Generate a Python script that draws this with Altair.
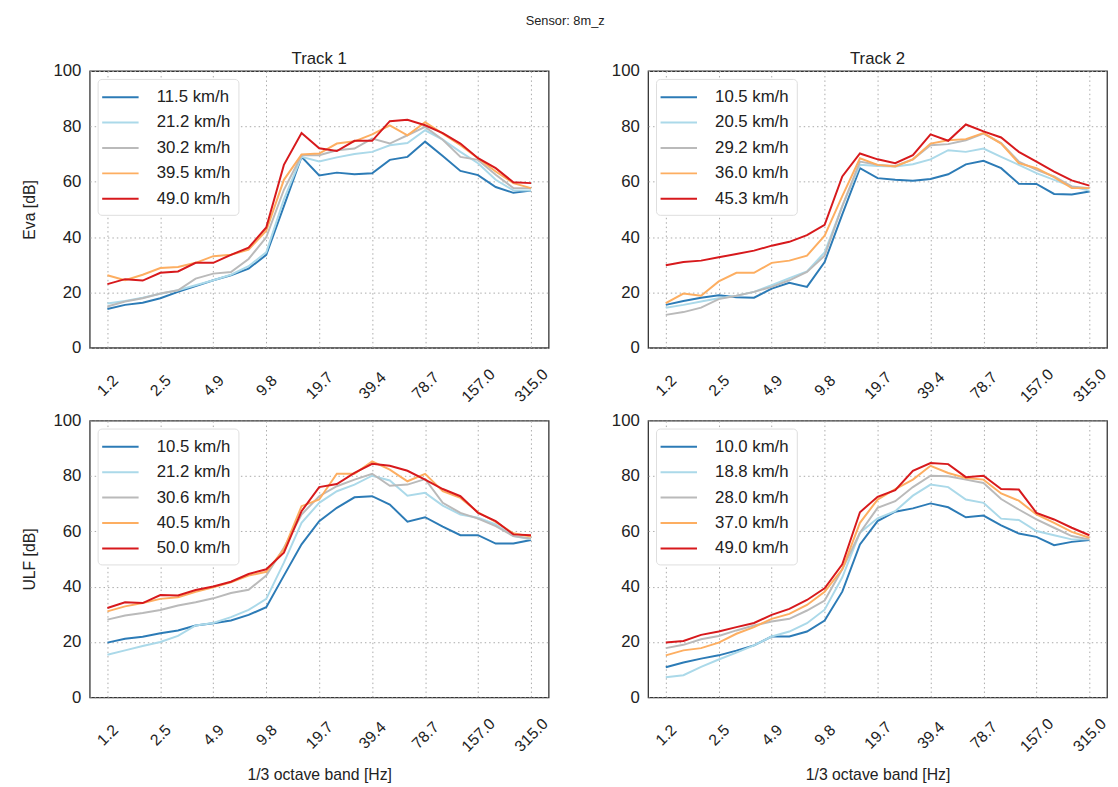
import altair as alt
import pandas as pd

FONT = "Liberation Sans"

bands = ["1.2", "1.6", "2.0", "2.5", "3.1", "3.9", "4.9", "6.2", "7.8", "9.8",
         "12.4", "15.6", "19.7", "24.8", "31.2", "39.4", "49.6", "62.5", "78.7",
         "99.2", "125.0", "157.0", "198.4", "250.0", "315.0"]
tick_labels = ["1.2", "2.5", "4.9", "9.8", "19.7", "39.4", "78.7", "157.0", "315.0"]
colors = ["#2c7bb6", "#abd9e9", "#bababa", "#fdae61", "#d7191c"]

# ---- Eva, Track 1
speeds_eva_t1 = ["11.5 km/h", "21.2 km/h", "30.2 km/h", "39.5 km/h", "49.0 km/h"]
eva_t1_a = [14.0, 15.5, 16.3, 17.9, 20.2, 22.3, 24.4, 26.2, 28.6, 33.6, 51.2, 69.0, 62.3,
            63.3, 62.7, 63.1, 67.9, 69.0, 74.5, 69.3, 63.9, 62.4, 58.1, 56.0, 56.8]
eva_t1_b = [16.0, 16.9, 18.1, 19.5, 20.8, 22.6, 24.4, 26.4, 29.5, 34.5, 53.6, 69.0, 67.3,
            68.8, 70.0, 70.8, 73.2, 74.0, 78.6, 75.2, 70.8, 66.7, 60.7, 56.9, 56.8]
eva_t1_c = [14.9, 16.7, 17.9, 19.6, 20.8, 25.0, 26.8, 27.4, 32.1, 39.9, 57.1, 69.6, 69.6,
            71.4, 72.0, 75.6, 73.8, 76.8, 79.8, 75.2, 69.0, 67.9, 62.5, 57.7, 57.7]
eva_t1_d = [26.2, 24.4, 26.4, 28.8, 29.2, 30.7, 33.1, 33.6, 35.5, 42.3, 60.7, 69.9, 70.2,
            73.8, 74.6, 77.1, 80.4, 76.8, 81.5, 77.4, 73.2, 68.5, 63.7, 59.5, 57.7]
eva_t1_e = [23.0, 24.8, 24.3, 27.1, 27.6, 30.7, 30.7, 33.6, 36.2, 43.5, 66.1, 77.6, 72.1,
            71.1, 74.8, 74.8, 81.9, 82.4, 80.4, 77.6, 73.8, 68.5, 64.9, 59.8, 59.5]

# ---- Eva, Track 2
speeds_eva_t2 = ["10.5 km/h", "20.5 km/h", "29.2 km/h", "36.0 km/h", "45.3 km/h"]
eva_t2_a = [15.5, 16.9, 18.1, 19.0, 18.3, 18.1, 21.4, 23.5, 22.0, 31.0, 48.2, 64.9, 61.3,
            60.7, 60.4, 61.0, 62.7, 66.3, 67.6, 64.9, 59.3, 59.2, 55.6, 55.4, 56.5]
eva_t2_b = [14.5, 15.5, 16.7, 17.9, 18.8, 20.2, 22.6, 25.2, 27.6, 34.5, 51.2, 66.1, 65.7,
            65.5, 66.3, 68.1, 71.4, 70.8, 72.0, 69.0, 66.1, 63.1, 60.7, 58.3, 56.8]
eva_t2_c = [11.9, 12.9, 14.5, 17.6, 18.8, 20.2, 22.0, 24.4, 27.4, 33.3, 51.2, 67.3, 66.1,
            65.7, 68.1, 73.2, 73.6, 75.0, 77.4, 74.0, 67.3, 64.3, 61.9, 58.3, 57.7]
eva_t2_d = [16.1, 19.6, 18.8, 24.0, 27.1, 27.1, 30.7, 31.5, 33.3, 40.5, 54.8, 68.5, 66.1,
            65.5, 68.1, 73.8, 75.0, 75.4, 77.6, 73.8, 66.7, 64.9, 61.7, 57.7, 57.7]
eva_t2_e = [29.8, 31.0, 31.5, 32.7, 33.9, 35.1, 36.9, 38.3, 40.7, 44.4, 61.9, 70.2, 68.1,
            66.7, 69.6, 77.1, 74.8, 80.7, 78.2, 76.0, 70.8, 67.3, 63.7, 60.5, 58.6]

# ---- ULF, Track 1
speeds_ulf_t1 = ["10.5 km/h", "21.2 km/h", "30.6 km/h", "40.5 km/h", "50.0 km/h"]
ulf_t1_a = [19.8, 21.2, 21.9, 23.2, 24.2, 26.0, 26.8, 27.8, 29.8, 32.6, 44.0, 55.3, 63.7,
            68.5, 72.3, 72.7, 69.7, 63.5, 65.1, 61.7, 58.6, 58.6, 55.6, 55.6, 56.9]
ulf_t1_b = [15.4, 17.0, 18.6, 20.0, 22.2, 26.0, 26.9, 29.0, 31.6, 35.6, 48.7, 63.1, 70.3,
            74.5, 76.9, 80.1, 78.4, 72.9, 73.9, 69.3, 66.1, 64.9, 62.5, 58.3, 57.1]
ulf_t1_c = [28.1, 29.6, 30.5, 31.6, 33.2, 34.4, 35.8, 37.7, 38.9, 44.0, 54.1, 66.1, 72.7,
            76.3, 78.7, 80.8, 76.5, 76.9, 78.9, 70.3, 66.7, 64.6, 61.9, 58.3, 57.4]
ulf_t1_d = [31.1, 32.9, 34.1, 35.6, 36.2, 38.2, 39.8, 41.6, 44.0, 45.4, 53.5, 69.1, 71.5,
            80.8, 80.8, 85.3, 82.3, 78.1, 80.8, 74.5, 72.1, 66.9, 63.4, 59.3, 58.1]
ulf_t1_e = [32.3, 34.4, 34.1, 37.0, 36.8, 38.8, 40.1, 41.8, 44.6, 46.3, 52.3, 67.3, 76.0,
            77.1, 81.1, 84.4, 83.7, 81.9, 78.7, 75.3, 72.7, 66.7, 63.7, 58.9, 58.6]

# ---- ULF, Track 2
speeds_ulf_t2 = ["10.0 km/h", "18.8 km/h", "28.0 km/h", "37.0 km/h", "49.0 km/h"]
ulf_t2_a = [10.9, 12.6, 14.0, 15.2, 16.9, 18.8, 22.0, 22.0, 23.8, 27.8, 38.2, 55.3, 63.7,
            67.1, 68.3, 70.1, 68.7, 65.1, 65.7, 62.2, 59.2, 58.0, 55.0, 56.2, 56.9]
ulf_t2_b = [7.3, 8.0, 11.0, 13.7, 16.2, 18.8, 22.0, 23.8, 26.8, 31.7, 43.4, 59.5, 64.7,
            67.3, 72.9, 76.9, 76.0, 71.5, 70.3, 64.6, 64.1, 60.1, 58.6, 57.1, 57.1]
ulf_t2_c = [17.8, 19.0, 21.0, 22.2, 24.2, 26.0, 27.4, 28.4, 31.4, 35.0, 46.3, 59.5, 68.5,
            70.9, 76.0, 80.1, 79.9, 78.7, 77.5, 71.7, 67.9, 64.3, 61.3, 58.3, 57.1]
ulf_t2_d = [15.2, 17.0, 17.8, 19.8, 23.0, 25.4, 28.4, 30.2, 33.4, 38.2, 46.3, 63.1, 71.5,
            75.3, 78.7, 83.7, 81.1, 79.3, 78.7, 73.7, 71.1, 66.1, 63.1, 59.8, 57.7]
ulf_t2_e = [19.8, 20.4, 22.6, 23.8, 25.4, 26.9, 29.8, 32.0, 35.2, 39.4, 48.1, 66.9, 72.5,
            74.9, 81.9, 84.7, 84.3, 79.6, 80.1, 75.3, 75.1, 66.7, 64.3, 61.3, 58.6]


def make_df(speeds, series):
    rows = []
    for sp, vals in zip(speeds, series):
        for i, (b, v) in enumerate(zip(bands, vals)):
            rows.append({"band": b, "idx": i, "speed": sp, "value": v})
    return pd.DataFrame(rows)


def panel(df, speeds, title=None, ytitle=None, xtitle=None):
    xaxis = dict(values=tick_labels, labelAngle=-45, labelAlign="center",
                 labelBaseline="middle", labelPadding=38, labelFontSize=16,
                 ticks=False, domain=False, grid=True)
    if xtitle:
        xaxis["title"] = xtitle
        xaxis["titlePadding"] = 13
    else:
        xaxis["title"] = None
    yaxis = dict(values=[0, 20, 40, 60, 80, 100], labelFontSize=17, labelPadding=9,
                 ticks=False, domain=False, grid=True)
    if ytitle:
        yaxis["title"] = ytitle
        yaxis["titlePadding"] = 16
    else:
        yaxis["title"] = None
    props = dict(width=466, height=281)
    if title:
        props["title"] = alt.TitleParams(title, fontSize=17, font=FONT, fontWeight="normal",
                                         offset=-6, frame="group", color="#222")
    return alt.Chart(df).mark_line(strokeWidth=2).encode(
        x=alt.X("band:O", scale=alt.Scale(type="point", domain=bands, padding=1.2),
                axis=alt.Axis(**xaxis)),
        y=alt.Y("value:Q", scale=alt.Scale(domain=[0, 100], nice=False, zero=False),
                axis=alt.Axis(**yaxis)),
        color=alt.Color("speed:N", scale=alt.Scale(domain=speeds, range=colors),
                        legend=alt.Legend(title=None, orient="top-left", offset=8,
                                          padding=8, fillColor="white",
                                          strokeColor="#dddddd", cornerRadius=4,
                                          labelFontSize=17, labelFont=FONT,
                                          labelColor="#222", symbolType="M-1.5,0H2.5",
                                          symbolSize=342, symbolStrokeWidth=2,
                                          labelOffset=31, rowPadding=6.8)),
        order=alt.Order("idx:Q"),
    ).properties(**props)


p1 = panel(make_df(speeds_eva_t1, [eva_t1_a, eva_t1_b, eva_t1_c, eva_t1_d, eva_t1_e]),
           speeds_eva_t1, title="Track 1", ytitle="Eva [dB]")
p2 = panel(make_df(speeds_eva_t2, [eva_t2_a, eva_t2_b, eva_t2_c, eva_t2_d, eva_t2_e]),
           speeds_eva_t2, title="Track 2")
p3 = panel(make_df(speeds_ulf_t1, [ulf_t1_a, ulf_t1_b, ulf_t1_c, ulf_t1_d, ulf_t1_e]),
           speeds_ulf_t1, ytitle="ULF [dB]", xtitle="1/3 octave band [Hz]")
p4 = panel(make_df(speeds_ulf_t2, [ulf_t2_a, ulf_t2_b, ulf_t2_c, ulf_t2_d, ulf_t2_e]),
           speeds_ulf_t2, xtitle="1/3 octave band [Hz]")

row1 = alt.hconcat(p1, p2, spacing=59).resolve_scale(color="independent")
row2 = alt.hconcat(p3, p4, spacing=59).resolve_scale(color="independent")

chart = alt.vconcat(row1, row2, spacing=5).resolve_scale(color="independent").properties(
    title=alt.TitleParams("Sensor: 8m_z", fontSize=13, font=FONT, fontWeight="normal",
                          anchor="middle", color="#222", offset=22),
    padding={"left": 12, "top": 1, "right": 0, "bottom": 0},
).configure_view(stroke="#333333", strokeWidth=1.3).configure_axis(
    labelFont=FONT, titleFont=FONT, labelColor="#222", titleColor="#222",
    titleFontSize=16, titleFontWeight="normal", gridColor="#aaaaaa",
    gridDash=[1.5, 3], gridWidth=1, gridOpacity=1,
)

chart.save("out.html", embed_options={"renderer": "svg", "actions": False})
